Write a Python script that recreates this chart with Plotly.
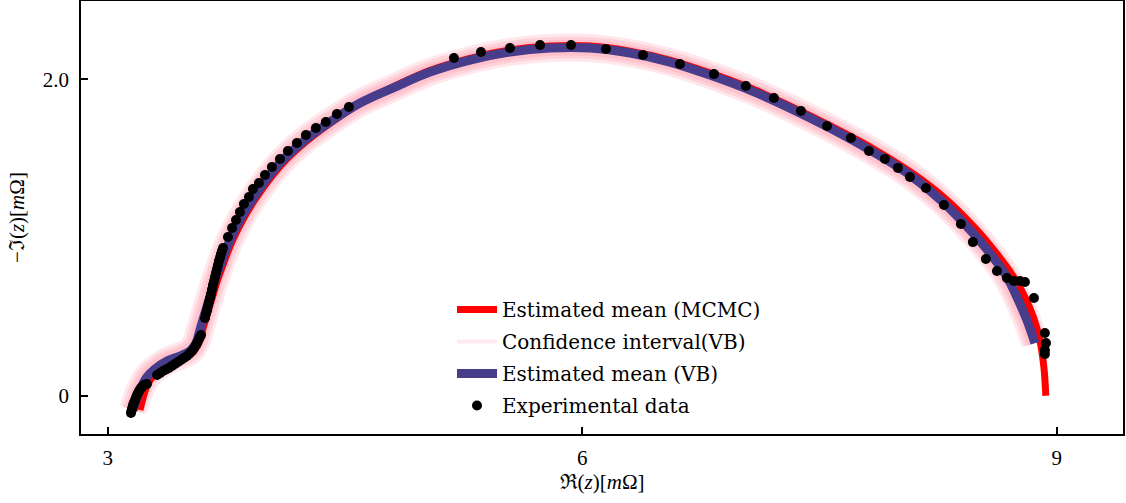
import plotly.graph_objects as go

# Experimental data (Re, -Im) in mOhm
exp_re = [3.147, 3.150, 3.154, 3.157, 3.160, 3.166, 3.173, 3.179, 3.185, 3.192, 3.198, 3.204,
          3.210, 3.220, 3.229, 3.239, 3.248,
          3.312, 3.331, 3.350, 3.369, 3.387, 3.406, 3.425, 3.444, 3.463, 3.482, 3.501, 3.517,
          3.533, 3.546, 3.558, 3.568, 3.577, 3.583, 3.590,
          3.615, 3.621, 3.628, 3.634, 3.640, 3.647, 3.653, 3.659, 3.665, 3.672, 3.678, 3.684,
          3.691, 3.697, 3.703, 3.710, 3.716, 3.722, 3.729,
          3.760, 3.786, 3.811, 3.836, 3.861, 3.893, 3.918, 3.956, 3.994, 4.038,
          4.089, 4.139, 4.196, 4.253, 4.316, 4.379, 4.449, 4.525,
          5.189, 5.360, 5.543, 5.733, 5.929, 6.150, 6.384, 6.618, 6.833, 7.035,
          7.212, 7.383, 7.548, 7.699, 7.813, 7.914, 7.996, 8.072, 8.173, 8.287,
          8.394, 8.470, 8.552, 8.622, 8.685, 8.729, 8.767, 8.799, 8.856, 8.925,
          8.932, 8.925, 8.925]
exp_im = [-0.109, -0.097, -0.084, -0.071, -0.059, -0.043, -0.027, -0.011, 0.004, 0.017, 0.030, 0.039,
          0.049, 0.058, 0.068, 0.071, 0.074,
          0.131, 0.143, 0.156, 0.166, 0.175, 0.188, 0.200, 0.213, 0.226, 0.238, 0.251, 0.267,
          0.283, 0.302, 0.321, 0.340, 0.358, 0.371, 0.384,
          0.491, 0.516, 0.541, 0.567, 0.592, 0.618, 0.643, 0.671, 0.700, 0.725, 0.750, 0.775,
          0.801, 0.826, 0.851, 0.874, 0.896, 0.915, 0.934,
          1.003, 1.060, 1.111, 1.161, 1.212, 1.256, 1.307, 1.345, 1.395, 1.446,
          1.496, 1.547, 1.597, 1.648, 1.692, 1.730, 1.781, 1.825,
          2.135, 2.173, 2.198, 2.217, 2.217, 2.192, 2.154, 2.097, 2.033, 1.958,
          1.882, 1.800, 1.705, 1.629, 1.547, 1.497, 1.440, 1.383, 1.313, 1.205,
          1.085, 0.971, 0.864, 0.788, 0.744, 0.725, 0.725, 0.719, 0.618, 0.396,
          0.333, 0.288, 0.263]

# Estimated mean (VB)
vb_re = [3.160, 3.185, 3.210, 3.248, 3.299, 3.375, 3.457, 3.520, 3.558, 3.583,
         3.609, 3.640, 3.678, 3.723, 3.773, 3.836, 3.912, 4.001, 4.108, 4.247,
         4.405, 4.595, 4.816, 5.037, 5.290, 5.543, 5.796, 6.049, 6.302, 6.554,
         6.807, 7.060, 7.313, 7.566, 7.819, 8.072, 8.281, 8.470, 8.596, 8.685,
         8.748, 8.811, 8.862]
vb_im = [-0.090, -0.014, 0.049, 0.118, 0.169, 0.219, 0.251, 0.283, 0.333, 0.415,
         0.504, 0.605, 0.731, 0.857, 0.984, 1.111, 1.237, 1.364, 1.490, 1.617,
         1.730, 1.850, 1.951, 2.046, 2.122, 2.173, 2.198, 2.198, 2.166, 2.109,
         2.027, 1.932, 1.818, 1.692, 1.553, 1.395, 1.224, 1.028, 0.877, 0.750,
         0.624, 0.479, 0.333]

# Estimated mean (MCMC)
mc_re = [3.204, 3.223, 3.248, 3.286, 3.350, 3.444, 3.520, 3.571, 3.596,
         3.624, 3.655, 3.693, 3.738, 3.788, 3.851, 3.926, 4.014, 4.119, 4.256,
         4.410, 4.597, 4.815, 5.035, 5.290, 5.543, 5.796, 6.049, 6.302, 6.554,
         6.807, 7.060, 7.313, 7.566, 7.831, 8.084, 8.299, 8.489, 8.622, 8.716,
         8.792, 8.855, 8.893, 8.918, 8.931]
mc_im = [-0.090, -0.014, 0.061, 0.124, 0.175, 0.219, 0.257, 0.321, 0.403,
         0.499, 0.600, 0.726, 0.852, 0.979, 1.106, 1.231, 1.357, 1.482, 1.608,
         1.724, 1.851, 1.958, 2.056, 2.133, 2.185, 2.210, 2.210, 2.178, 2.122,
         2.041, 1.946, 1.832, 1.707, 1.566, 1.408, 1.243, 1.054, 0.896, 0.769,
         0.637, 0.491, 0.352, 0.188, 0.000]

x_ticks = [3, 6, 9]
x_ticktext = ["3", "6", "9"]
y_ticks = [0, 2.0]
y_ticktext = ["0", "2.0"]

FONT = "Liberation Serif"
LFONT = "DejaVu Serif"

fig = go.Figure()

# confidence band (blurred look), drawn first
for w, op in [(28, 0.35), (22, 0.55), (16, 0.85)]:
    fig.add_trace(go.Scatter(x=vb_re, y=vb_im, mode="lines", opacity=op,
                             line=dict(color="#ffc0cb", width=w, shape="spline"),
                             showlegend=False, hoverinfo="skip"))

fig.add_trace(go.Scatter(x=mc_re, y=mc_im, mode="lines", line=dict(color="#ff0000", width=7, shape="spline"),
                         name="Estimated mean (MCMC)", legendrank=1, legendgroup="g1"))

fig.add_trace(go.Scatter(x=vb_re, y=vb_im, mode="lines",
                         line=dict(color="rgba(255,205,215,0.4)", width=4, shape="spline"),
                         name="Confidence interval(VB)", legendrank=2, legendgroup="g2"))

fig.add_trace(go.Scatter(x=vb_re, y=vb_im, mode="lines", line=dict(color="#483d8b", width=9, shape="spline"),
                         name="Estimated mean (VB)", legendrank=3, legendgroup="g3"))

fig.add_trace(go.Scatter(x=exp_re, y=exp_im, mode="markers",
                         marker=dict(color="black", size=10, line=dict(width=0)),
                         name="Experimental data", legendrank=4, legendgroup="g4"))

axis_common = dict(showgrid=False, zeroline=False, showline=True, linecolor="black", linewidth=1.5,
                   mirror=True, ticks="inside", ticklen=7, tickwidth=1.5, tickcolor="black",
                   automargin=False,
                   tickfont=dict(family=FONT, size=21, color="black"))

fig.update_xaxes(range=[2.831, 9.419], tickmode="array", tickvals=x_ticks, ticktext=x_ticktext,
                 title=dict(text="ℜ(<i>z</i>)[<i>m</i>Ω]", font=dict(family=FONT, size=21, color="black"), standoff=4),
                 ticklabelstandoff=4, **axis_common)
fig.update_yaxes(range=[-0.242, 2.495], tickmode="array", tickvals=y_ticks, ticktext=y_ticktext,
                 title=dict(text="−ℑ(<i>z</i>)[<i>m</i>Ω]", font=dict(family=FONT, size=21, color="black"), standoff=12),
                 ticklabelstandoff=6, **axis_common)

fig.update_layout(
    width=1126, height=503,
    margin=dict(l=81, r=3, t=1, b=69),
    plot_bgcolor="white", paper_bgcolor="white",
    font=dict(family=FONT, size=21, color="black"),
    legend=dict(x=(452 - 81) / 1042, y=(434 - 290) / 433, xanchor="left", yanchor="top",
                bgcolor="rgba(0,0,0,0)", font=dict(family=LFONT, size=20, color="black"),
                tracegroupgap=3, itemwidth=40),
    showlegend=True,
)

fig.write_html("out.html", config={"displayModeBar": False},
               post_script="document.body.style.margin='0px';document.body.style.padding='0px';")
